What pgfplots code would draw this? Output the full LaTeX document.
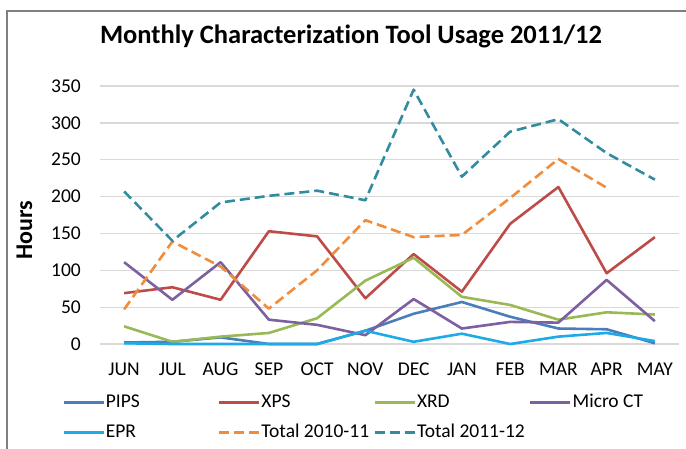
\documentclass[border=0pt]{standalone}
\usepackage{fontspec}
\setmainfont{Carlito}[Ligatures=NoCommon]
\usepackage{pgfplots}
\pgfplotsset{compat=1.18}

\definecolor{cPIPS}{RGB}{74,126,187}
\definecolor{cXPS}{RGB}{190,75,72}
\definecolor{cXRD}{RGB}{152,185,84}
\definecolor{cMCT}{RGB}{125,96,160}
\definecolor{cEPR}{RGB}{30,170,230}
\definecolor{cT10}{RGB}{240,140,60}
\definecolor{cT11}{RGB}{50,140,160}
\definecolor{cGrid}{RGB}{217,217,217}
\definecolor{cFrame}{RGB}{128,128,128}

\newcommand{\legtext}[1]{\makebox[112pt][l]{#1}}

\begin{document}
\begin{tikzpicture}[x=1pt,y=1pt]
\useasboundingbox (0,0) rectangle (686,-448);
% chart frame
\draw[cFrame, line width=2pt] (7,-460) -- (7,-11) -- (700,-11);

\node[anchor=base, font=\bfseries\fontsize{26.5}{31}\selectfont] at (351,-43)
  {Monthly Characterization Tool Usage 2011/12};
\node[rotate=90, anchor=base, font=\bfseries\fontsize{24}{28}\selectfont] at (32,-230) {Hours};

\begin{axis}[
  at={(100pt,-344pt)}, anchor=south west,
  scale only axis, width=579pt, height=258pt,
  xmin=-0.5, xmax=11.5, ymin=0, ymax=350,
  clip=false,
  xtick={0,...,11},
  xticklabels={JUN,JUL,AUG,SEP,OCT,NOV,DEC,JAN,FEB,MAR,APR,MAY},
  ytick={0,50,...,350},
  ymajorgrids,
  grid style={cGrid, line width=1.3pt},
  axis line style={draw=none},
  major tick length=0pt,
  tick style={draw=none},
  /pgf/number format/assume math mode=true,
  tick label style={font=\fontsize{19.5}{23}\selectfont, inner sep=0pt},
  yticklabel style={anchor=east, xshift=-19pt},
  xticklabel style={anchor=north, yshift=-19pt},
  every axis plot/.append style={line width=2.6pt, line join=round},
  legend columns=4,
  legend image code/.code={\draw[#1] (0pt,0pt) -- (40pt,0pt);},
  legend style={
    draw=none, fill=none, inner sep=0pt,
    at={(-0.0656,-0.193)}, anchor=north west,
    font=\fontsize{19.5}{23}\selectfont,
    nodes={inner sep=0pt, text height=13pt, text depth=4pt},
    row sep=13pt,
    /tikz/every odd column/.append style={column sep=1pt},
  },
]
% hours per instrument, June 2011 to May 2012
\addplot[cPIPS] coordinates {(0,2) (1,3) (2,9) (3,0) (4,0) (5,18) (6,41) (7,57) (8,37) (9,21) (10,20) (11,1)};
\addlegendentry{\legtext{PIPS}}
\addplot[cXPS] coordinates {(0,69) (1,77) (2,60) (3,153) (4,146) (5,62) (6,122) (7,71) (8,163) (9,213) (10,96) (11,145)};
\addlegendentry{\legtext{XPS}}
\addplot[cXRD] coordinates {(0,24) (1,3) (2,10) (3,15) (4,35) (5,86) (6,117) (7,64) (8,53) (9,33) (10,43) (11,40)};
\addlegendentry{\legtext{XRD}}
\addplot[cMCT] coordinates {(0,111) (1,60) (2,111) (3,33) (4,26) (5,12) (6,61) (7,21) (8,30) (9,29) (10,87) (11,31)};
\addlegendentry{\legtext{Micro CT}}
\addplot[cEPR] coordinates {(0,1) (1,0) (2,0) (3,0) (4,0) (5,18) (6,3) (7,14) (8,0) (9,10) (10,15) (11,4)};
\addlegendentry{\legtext{EPR}}
% monthly totals
\addplot[cT10, dash pattern=on 10pt off 5pt] coordinates {(0,47) (1,139) (2,105) (3,48) (4,100) (5,168) (6,145) (7,148) (8,198) (9,251) (10,212)};
\addlegendentry{\legtext{Total 2010-11}}
\addplot[cT11, dash pattern=on 10pt off 5pt] coordinates {(0,207) (1,140) (2,192) (3,201) (4,208) (5,195) (6,345) (7,227) (8,288) (9,305) (10,259) (11,223)};
\addlegendentry{\legtext{Total 2011-12}}
\end{axis}
\end{tikzpicture}
\end{document}
